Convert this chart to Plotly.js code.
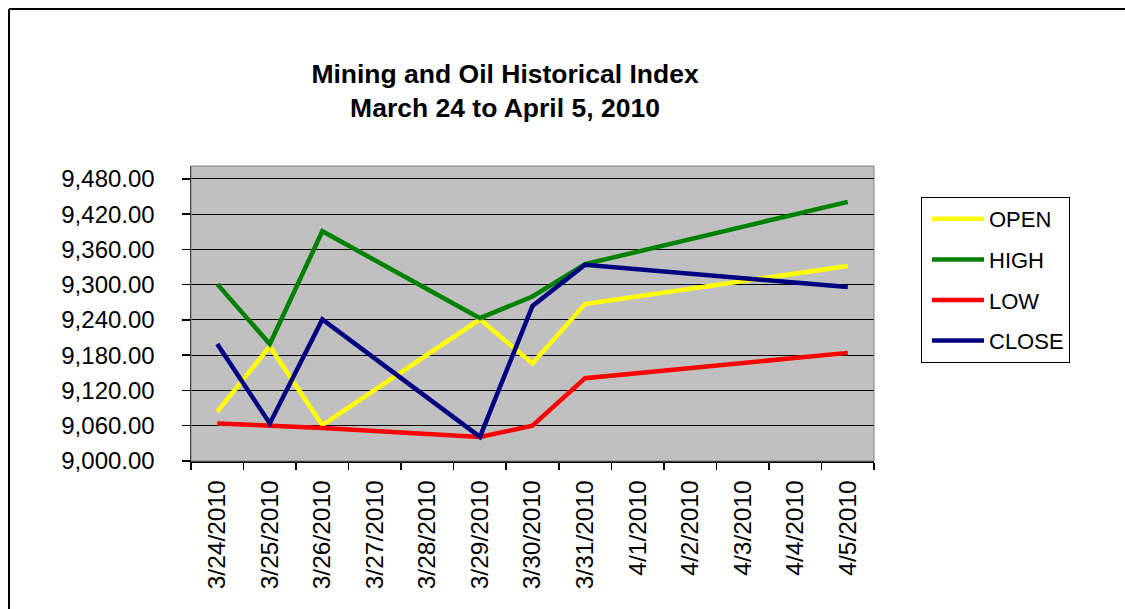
<!DOCTYPE html>
<html>
<head>
<meta charset="utf-8">
<script src="https://cdn.plot.ly/plotly-3.0.1.min.js"></script>
<style>
  html, body { margin: 0; padding: 0; background: #ffffff; }
  #chart { width: 1125px; height: 609px; }
</style>
</head>
<body>
<div id="chart"></div>
<script>
// ---- data ----
const axisDates = ['2010-03-24','2010-03-25','2010-03-26','2010-03-27','2010-03-28','2010-03-29','2010-03-30','2010-03-31','2010-04-01','2010-04-02','2010-04-03','2010-04-04','2010-04-05'];
const tickLabels = ['3/24/2010','3/25/2010','3/26/2010','3/27/2010','3/28/2010','3/29/2010','3/30/2010','3/31/2010','4/1/2010','4/2/2010','4/3/2010','4/4/2010','4/5/2010'];
const tradeDates = ['2010-03-24','2010-03-25','2010-03-26','2010-03-29','2010-03-30','2010-03-31','2010-04-05'];
const openVals  = [9084, 9195, 9061, 9241, 9166, 9267, 9332];
const highVals  = [9301, 9199, 9391, 9243, 9280, 9335, 9441];
const lowVals   = [9064, 9060, 9056, 9041, 9060, 9141, 9184];
const closeVals = [9199, 9064, 9241, 9041, 9264, 9334, 9296];
const yTicks = [9000, 9060, 9120, 9180, 9240, 9300, 9360, 9420, 9480];
const yTickText = ['9,000.00','9,060.00','9,120.00','9,180.00','9,240.00','9,300.00','9,360.00','9,420.00','9,480.00'];
const seriesNames = ['OPEN','HIGH','LOW','CLOSE'];

// ---- layout / style ----
const W = 1125, H = 609;
const M = {l: 191, r: 251, t: 166, b: 148};
const pw = W - M.l - M.r, ph = H - M.t - M.b;
const px = x => (x - M.l) / pw;
const py = y => (H - M.b - y) / ph;
const colors = ['#FFFF00', '#008000', '#FF0000', '#000080'];
const seriesVals = [openVals, highVals, lowVals, closeVals];
const FONT = '"Liberation Sans", Arial, Helvetica, sans-serif';

const traces = seriesNames.map((n, i) => ({
  type: 'scatter', mode: 'lines', name: n,
  x: tradeDates, y: seriesVals[i],
  line: {color: colors[i], width: 4.5},
  legendgroup: n,
  hoverinfo: 'x+y+name'
}));

const layout = {
  width: W, height: H,
  margin: M,
  paper_bgcolor: '#ffffff',
  plot_bgcolor: '#C0C0C0',
  font: {family: FONT, color: '#000000'},
  title: {
    text: '<b>Mining and Oil Historical Index<br>March 24 to April 5, 2010</b>',
    font: {family: FONT, size: 26.5, color: '#000000'},
    x: 505 / W, xanchor: 'center',
    y: 1 - 83 / H, yanchor: 'top'
  },
  xaxis: {
    type: 'date',
    range: ['2010-03-23 12:00', '2010-04-05 12:00'],
    tickvals: axisDates, ticktext: tickLabels,
    tickangle: -90,
    tickfont: {family: FONT, size: 24.5, color: '#000000'},
    ticks: '', ticklabelstandoff: 8,
    showgrid: false, zeroline: false,
    showline: true, linecolor: '#000000', linewidth: 1.5,
    minor: {ticks: 'outside', tick0: '2010-03-23 12:00', dtick: 86400000, ticklen: 7, tickcolor: '#000000', tickwidth: 1.5, showgrid: false}
  },
  yaxis: {
    range: [9000, 9502],
    tickvals: yTicks, ticktext: yTickText,
    tickfont: {family: FONT, size: 24, color: '#000000'},
    ticks: 'outside', ticklen: 8, tickcolor: '#000000', tickwidth: 1.5,
    ticklabelstandoff: 22,
    showgrid: true, gridcolor: '#000000', gridwidth: 1,
    zeroline: false,
    showline: true, linecolor: '#000000', linewidth: 1.5
  },
  showlegend: true,
  legend: {
    x: px(921), y: py(197), xanchor: 'left', yanchor: 'top',
    bgcolor: '#ffffff', bordercolor: '#000000', borderwidth: 1,
    font: {family: FONT, size: 22, color: '#000000'},
    traceorder: 'grouped', tracegroupgap: 9,
    itemwidth: 52, indentation: 5,
    entrywidth: 160, entrywidthmode: 'pixels'
  },
  shapes: [
    {type: 'rect', xref: 'paper', yref: 'paper', x0: 0, x1: 1, y0: 0, y1: 1, line: {color: '#808080', width: 1}, layer: 'above'},
    {type: 'line', xref: 'paper', yref: 'paper', x0: px(9), x1: px(W + 5), y0: py(9), y1: py(9), line: {color: '#000000', width: 2}},
    {type: 'line', xref: 'paper', yref: 'paper', x0: px(9), x1: px(9), y0: py(9), y1: py(H + 5), line: {color: '#000000', width: 2}}
  ]
};

Plotly.newPlot('chart', traces, layout, {displayModeBar: false, staticPlot: true});
</script>
</body>
</html>
